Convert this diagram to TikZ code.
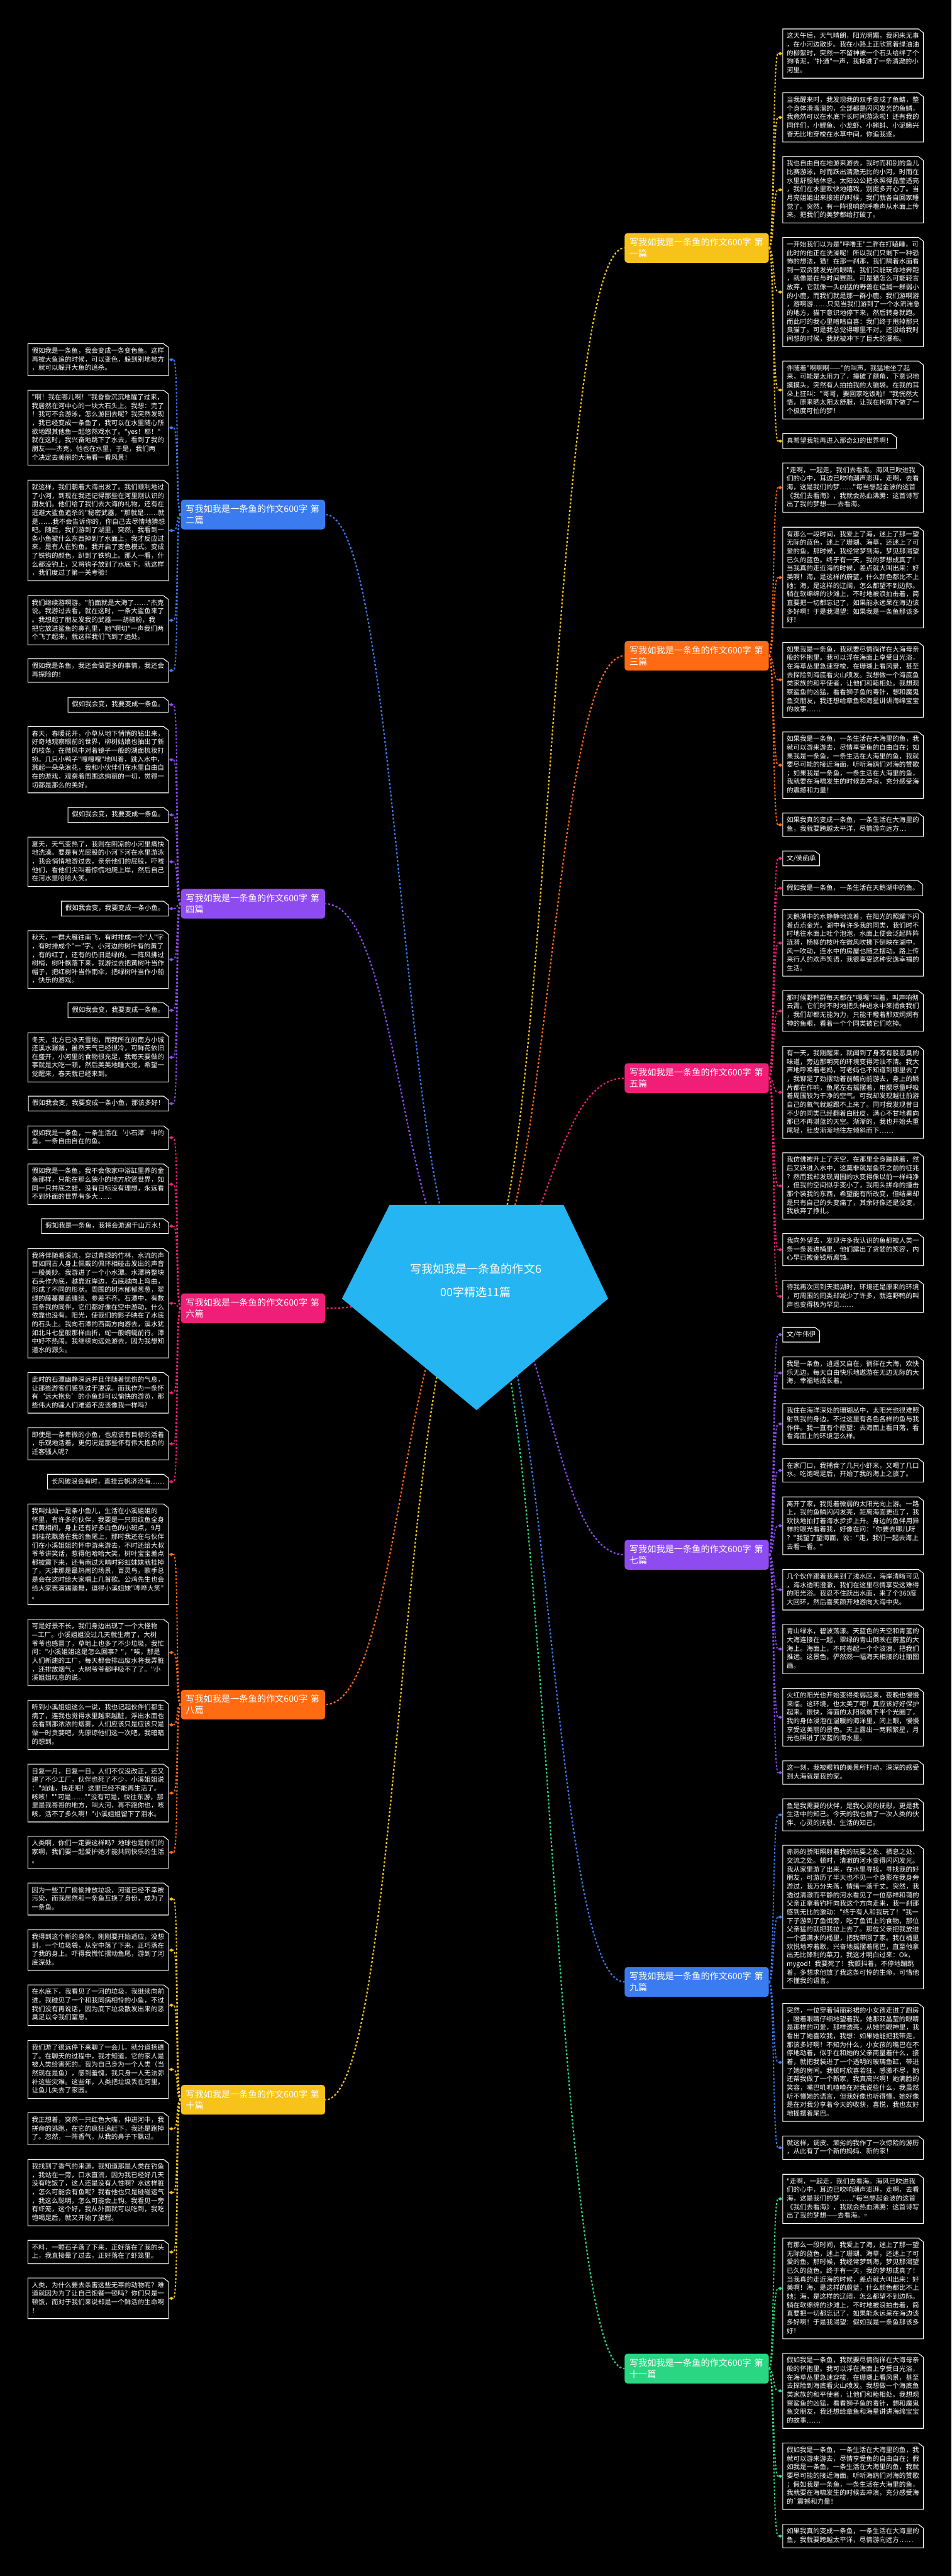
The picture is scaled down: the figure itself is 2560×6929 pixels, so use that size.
\documentclass[tikz,border=0pt]{standalone}
\usepackage{fontspec}
\newfontfamily\cjk{Noto Sans CJK SC}
\usetikzlibrary{shapes.geometric}
\definecolor{cyel}{HTML}{F7C21A}
\definecolor{cora}{HTML}{FF6A13}
\definecolor{cpink}{HTML}{F01E77}
\definecolor{cpur}{HTML}{8E4CF0}
\definecolor{cblu}{HTML}{3A7CF0}
\definecolor{cgrn}{HTML}{2AD681}
\definecolor{ccen}{HTML}{25B5F3}
\def\leafstrut{\vrule width 0pt height 8.4pt depth 3.15pt\relax}
\newcommand\leafbox[1]{\draw[white,line width=0.9pt] (#1.south west) -- (#1.north west) -- ([xshift=-6.5pt]#1.north east) -- ([yshift=-5pt]#1.north east) -- (#1.south east) -- cycle;}
\tikzset{
  leaf/.style={font=\cjk\fontsize{8.9pt}{11.55pt}\selectfont, text=white, inner xsep=5pt, inner ysep=4pt, align=left,
    execute at begin node=\leafstrut, execute at end node=\leafstrut},
  wide/.style={text width=178.5pt},
  rl/.style={leaf, anchor=west},
  ll/.style={leaf, anchor=east},
  dia/.style={diamond, fill=#1, minimum width=6.5pt, minimum height=4.5pt, inner sep=0pt},
  conn/.style={draw=#1, line width=1.7pt, dash pattern=on 2.4pt off 2.4pt},
  cconn/.style={draw=#1, line width=1.9pt, dash pattern=on 2.6pt off 2.6pt},
  br/.style={rounded corners=4pt, fill=#1, text=white, font=\cjk\fontsize{12pt}{15pt}\selectfont,
    text width=181pt, inner xsep=6.5pt, inner ysep=5pt, align=left, minimum height=40pt},
}
% right leaf: name, y, colour, branch, text
\newcommand\RW[5]{\node[rl,wide] (#1) at (2106,#2) {#5};\leafbox{#1}
  \draw[conn=#3] (#4.east) .. controls +(14,0) and +(-14,0) .. (2093,#2);
  \node[dia=#3] (d#1) at (2099,#2) {};}
\newcommand\RS[5]{\node[rl] (#1) at (2106,#2) {#5};\leafbox{#1}
  \draw[conn=#3] (#4.east) .. controls +(14,0) and +(-14,0) .. (2093,#2);
  \node[dia=#3] (d#1) at (2099,#2) {};}
\newcommand\LW[5]{\node[ll,wide] (#1) at (453,#2) {#5};\leafbox{#1}
  \draw[conn=#3] (#4.west) .. controls +(-14,0) and +(14,0) .. (467,#2);
  \node[dia=#3] (d#1) at (461,#2) {};}
\newcommand\LS[5]{\node[ll] (#1) at (453,#2) {#5};\leafbox{#1}
  \draw[conn=#3] (#4.west) .. controls +(-14,0) and +(14,0) .. (467,#2);
  \node[dia=#3] (d#1) at (461,#2) {};}
\begin{document}
\begin{tikzpicture}[x=0.5pt,y=-0.5pt]
\fill[black] (0,0) rectangle (2560,6929);
\useasboundingbox (0,0) rectangle (2560,6929);

% centre anchor
\coordinate (c) at (1280,3444);

% branches
\node[br=cyel, anchor=west] (b1) at (1680,667) {写我如我是一条鱼的作文600字 第\\一篇};
\node[br=cora, anchor=west] (b3) at (1680,1764) {写我如我是一条鱼的作文600字 第\\三篇};
\node[br=cpink, anchor=west] (b5) at (1680,2900) {写我如我是一条鱼的作文600字 第\\五篇};
\node[br=cpur, anchor=west] (b7) at (1680,4182) {写我如我是一条鱼的作文600字 第\\七篇};
\node[br=cblu, anchor=west] (b9) at (1680,5331) {写我如我是一条鱼的作文600字 第\\九篇};
\node[br=cgrn, anchor=west] (b11) at (1680,6371) {写我如我是一条鱼的作文600字 第\\十一篇};
\node[br=cblu, anchor=east] (b2) at (875,1384) {写我如我是一条鱼的作文600字 第\\二篇};
\node[br=cpur, anchor=east] (b4) at (875,2431) {写我如我是一条鱼的作文600字 第\\四篇};
\node[br=cpink, anchor=east] (b6) at (875,3519) {写我如我是一条鱼的作文600字 第\\六篇};
\node[br=cora, anchor=east] (b8) at (875,4585) {写我如我是一条鱼的作文600字 第\\八篇};
\node[br=cyel, anchor=east] (b10) at (875,5648) {写我如我是一条鱼的作文600字 第\\十篇};

% centre connectors
\foreach \b/\col in {b1/cyel,b3/cora,b5/cpink,b7/cpur,b9/cblu,b11/cgrn}
  \draw[cconn=\col] (c) .. controls (1480,3444) and (1480,0|-\b.west) .. (\b.west);
\foreach \b/\col in {b2/cblu,b4/cpur,b6/cpink,b8/cora,b10/cyel}
  \draw[cconn=\col] (c) .. controls (1080,3444) and (1080,0|-\b.east) .. (\b.east);

\fill[ccen] (1048,3241) -- (1516,3241) -- (1636,3493) -- (1282,3793) -- (920,3493) -- cycle;
\node[font=\cjk\fontsize{15.3pt}{31pt}\selectfont, text=white, align=center, inner sep=0pt] (ctext) at (c)
  {写我如我是一条鱼的作文6\\00字精选11篇};

% ===== right: 第一篇 =====
\RW{rA}{144}{cyel}{b1}{这天午后，天气晴朗，阳光明媚，我闲来无事\\，在小河边散步。我在小路上正欣赏着绿油油\\的柳絮时，突然一不留神被一个石头给绊了个\\狗啃泥，"扑通"一声，我掉进了一条清澈的小\\河里。}
\RW{rB}{316}{cyel}{b1}{当我醒来时，我发现我的双手变成了鱼鳍，整\\个身体滑溜溜的，全部都是闪闪发光的鱼鳞，\\我竟然可以在水底下长时间游泳啦！还有我的\\同伴们，小鲤鱼、小龙虾、小蝌蚪、小泥鳅兴\\奋无比地穿梭在水草中间，你追我逐。}
\RW{rC}{510.5}{cyel}{b1}{我也自由自在地游来游去，我时而和别的鱼儿\\比赛游泳，时而跃出清澈无比的小河，时而在\\水里舒服地休息。太阳公公把水照得晶莹透亮\\，我们在水里欢快地嬉戏，别提多开心了。当\\月亮姐姐出来接班的时候，我们就各自回家睡\\觉了。突然，有一阵很响的呼噜声从水面上传\\来。把我们的美梦都给打破了。}
\RW{rD}{785.5}{cyel}{b1}{一开始我们以为是"呼噜王"二胖在打瞌睡，可\\此时的他正在洗澡呢！所以我们只剩下一种恐\\怖的想法，猫！在那一刹那，我们隔着水面看\\到一双贪婪发光的眼睛。我们只能玩命地奔跑\\，就像是在与时间赛跑。可是猫怎么可能轻言\\放弃，它就像一头凶猛的野兽在追捕一群弱小\\的小鹿，而我们就是那一群小鹿。我们游啊游\\，游啊游……只见当我们游到了一个水流湍急\\的地方，猫下意识地停下来，然后转身就跑。\\而此时的我心里暗暗自喜：我们终于甩掉那只\\臭猫了。可是我总觉得哪里不对，还没给我时\\间想的时候，我就被冲下了巨大的瀑布。}
\RW{rE}{1049}{cyel}{b1}{伴随着"啊啊啊——"的叫声，我猛地坐了起\\来，可能是太用力了，撞破了额角，下意识地\\摸摸头。突然有人拍拍我的大脑袋。在我的耳\\朵上狂叫："哥哥，要回家吃饭啦！"我恍然大\\悟，原来晒太阳太舒服，让我在树荫下做了一\\个极度可怕的梦！}
\RS{rF}{1186.5}{cyel}{b1}{真希望我能再进入那奇幻的世界啊！}

% ===== right: 第三篇 =====
\RW{rG}{1311.5}{cora}{b3}{"走啊，一起走，我们去看海。海风已吹进我\\们的心中，耳边已吹响潮声澎湃，走啊，去看\\海，这是我们的梦……"每当想起金波的这首\\《我们去看海》，我就会热血沸腾：这首诗写\\出了我的梦想——去看海。}
\RW{rH}{1553.5}{cora}{b3}{有那么一段时间，我爱上了海，迷上了那一望\\无际的蓝色，迷上了珊瑚、海草，还迷上了可\\爱的鱼。那时候，我经常梦到海，梦见那渴望\\已久的蓝色。终于有一天，我的梦想成真了！\\当我真的走近海的时候，差点就大叫出来：好\\美啊！海，是这样的蔚蓝，什么颜色都比不上\\她；海，是这样的辽阔，怎么都望不到边际。\\躺在软绵绵的沙滩上，不时地被浪拍击着，简\\直要把一切都忘记了，如果能永远呆在海边该\\多好啊！于是我渴望：如果我是一条鱼那该多\\好！}
\RW{rI}{1828.5}{cora}{b3}{如果我是一条鱼，我就要尽情徜徉在大海母亲\\般的怀抱里。我可以浮在海面上享受日光浴，\\在海草丛里急速穿梭，在珊瑚上看风景，甚至\\去探险到海底看火山喷发。我想做一个海底鱼\\类家族的和平使者，让他们和睦相处。我想观\\察鲨鱼的凶猛，看看狮子鱼的毒针，想和魔鬼\\鱼交朋友，我还想给章鱼和海星讲讲海绵宝宝\\的故事……}
\RW{rJ}{2058}{cora}{b3}{如果我是一条鱼，一条生活在大海里的鱼，我\\就可以游来游去，尽情享受鱼的自由自在；如\\果我是一条鱼，一条生活在大海里的鱼，我就\\要尽可能的接近海面，听听海鸥们对海的赞歌\\；如果我是一条鱼，一条生活在大海里的鱼，\\我就要在海啸发生的时候去冲浪，充分感受海\\的震撼和力量！}
\RW{rK}{2218.5}{cora}{b3}{如果我真的变成一条鱼，一条生活在大海里的\\鱼，我就要跨越太平洋，尽情游向远方…}

% ===== right: 第五篇 =====
\RS{rL}{2309}{cpink}{b5}{文/侯函承}
\RS{rM}{2389}{cpink}{b5}{假如我是一条鱼，一条生活在天鹅湖中的鱼。}
\RW{rN}{2536.5}{cpink}{b5}{天鹅湖中的水静静地流着，在阳光的照耀下闪\\着点点金光。湖中有许多我的同类，我们时不\\时地往水面上吐个泡泡，水面上便会泛起阵阵\\涟漪，杨柳的枝叶在微风吹拂下倒映在湖中，\\风一吹动，连水中的房屋也随之摆动。路上传\\来行人的欢声笑语，我很享受这种安逸幸福的\\生活。}
\RW{rO}{2719.5}{cpink}{b5}{那时候野鸭群每天都在"嘎嘎"叫着，叫声响彻\\云霄。它们时不时地把头伸进水中来捕食我们\\，我们却都无能为力，只能干瞪着那双炯炯有\\神的鱼眼，看着一个个同类被它们吃掉。}
\RW{rP}{2938}{cpink}{b5}{有一天，我刚醒来，就闻到了身旁有股恶臭的\\味道，旁边那明亮的环境变得污浊不清。我大\\声地呼唤着老妈，可老妈也不知道到哪里去了\\，我铆足了劲摆动着前鳍向前游去，身上的鳞\\片都在作响，鱼尾左右摇摆着，用腮尽量呼吸\\着周围较为干净的空气。可我却发现越往前游\\自己的氧气就越跟不上来了。同时我发现昔日\\不少的同类已经翻着白肚皮，满心不甘地看向\\那已不再湛蓝的天空。渐渐的，我也开始头重\\尾轻，肚皮渐渐地往左倾斜而下……}
\RW{rQ}{3190}{cpink}{b5}{我仿佛被升上了天空，在那里全身蹦跳着，然\\后又跃进入水中，这莫非就是鱼死之前的征兆\\？然而我却发现周围的水变得像以前一样纯净\\，但我的空间似乎变小了，我用头拼命的撞击\\那个装我的东西，希望能有所改变，但结果却\\是只有自己的头变痛了，其余好像还是没变，\\我放弃了挣扎。}
\RW{rR}{3361.5}{cpink}{b5}{我向外望去，发现许多我认识的鱼都被人类一\\条一条装进桶里，他们露出了贪婪的笑容，内\\心早已被金钱所腐蚀。}
\RW{rS}{3487}{cpink}{b5}{待我再次回到天鹅湖时，环境还是原来的环境\\，可周围的同类却减少了许多，就连野鸭的叫\\声也变得极为罕见……}

% ===== right: 第七篇 =====
\RS{rT}{3590}{cpur}{b7}{文/牛伟伊}
\RW{rU}{3693}{cpur}{b7}{我是一条鱼，逍遥又自在，徜徉在大海，欢快\\乐无边。每天自由快乐地遨游在无边无际的大\\海，幸福地成长着。}
\RW{rV}{3830}{cpur}{b7}{我住在海洋深处的珊瑚丛中，太阳光也很难照\\射到我的身边，不过这里有各色各样的鱼与我\\作伴。我一直有个愿望：去海面上看日落，看\\看海面上的环境怎么样。}
\RW{rW}{3955}{cpur}{b7}{在家门口，我捕食了几只小虾米，又喝了几口\\水。吃饱喝足后，开始了我的海上之旅了。}
\RW{rX}{4104}{cpur}{b7}{离开了家，我觅着微弱的太阳光向上游。一路\\上，我的鱼鳞闪闪发亮，距离海面更近了，我\\欢快地拍打着海水步步上升。身边的鱼伴用异\\样的眼光看着我，好像在问："你要去哪儿呀\\？"我望了望海面，说："走，我们一起去海上\\去看一看。"}
\RW{rY}{4276}{cpur}{b7}{几个伙伴跟着我来到了浅水区，海岸清晰可见\\，海水透明澄澈，我们在这里尽情享受这难得\\的阳光浴。我忍不住跃出水面，来了个360度\\大回环，然后喜笑颜开地游向大海中央。}
\RW{rZ}{4435.5}{cpur}{b7}{青山绿水，碧波荡漾。天蓝色的天空和青蓝的\\大海连接在一起，翠绿的青山倒映在蔚蓝的大\\海上。海面上，不时卷起一个个波浪，把我们\\推远。这景色，俨然然一幅海天相接的壮丽图\\画。}
\RW{rAA}{4619}{cpur}{b7}{火红的阳光也开始变得柔弱起来，夜晚也慢慢\\来临。这环境，也太美了吧！真应该好好保护\\起来。很快，海面的太阳就剩下半个光圈了，\\我的身体浸泡在温暖的海洋里，闭上眼，慢慢\\享受这美丽的景色。天上露出一两颗繁星，月\\光也照进了深蓝的海水里。}
\RW{rAB}{4768}{cpur}{b7}{这一刻，我被眼前的美景所打动，深深的感受\\到大海就是我的家。}

% ===== right: 第九篇 =====
\RW{rAC}{4881.5}{cblu}{b9}{鱼是我需要的伙伴，是我心灵的抚慰，更是我\\生活中的知己。今天的我也做了一次人类的伙\\伴、心灵的抚慰、生活的知己。}
\RW{rAD}{5156.5}{cblu}{b9}{赤热的骄阳照射着我的玩耍之处、栖息之处、\\交流之处。顿时，清澈的河水变得闪闪发光。\\我从家里游了出来，在水里寻找，寻找我的好\\朋友，可游历了半天也不见一个身影在我身旁\\游过，我万分失落，情绪一落千丈。突然，我\\透过清澈而平静的河水看见了一位慈祥和蔼的\\父亲正拿着钓杆向我这个方向走来，我一刹那\\感到无比的激动："终于有人和我玩了！"我一\\下子游到了鱼饵旁，吃了鱼饵上的食物，那位\\父亲猛的就把我拉上去了。那位父亲把我放进\\一个盛满水的桶里，把我带回了家。我在桶里\\欢悦地哼着歌，兴奋地摇摆着尾巴，直至他拿\\出无比锋利的菜刀，我这才明白过来：Ok，\\mygod！我要死了！我颤抖着，不停地蹦跳\\着，多想求他放了我这条可怜的生命，可惜他\\不懂我的语言。}
\RW{rAE}{5547.5}{cblu}{b9}{突然，一位穿着俏丽彩裙的小女孩走进了厨房\\，瞪着眼睛仔细地望着我，她那双晶莹的眼睛\\是那样的可爱，那样透亮，从她的眼神里，我\\看出了她喜欢我，我想：如果她能把我带走，\\那该多好啊！不知为什么，小女孩的嘴巴在不\\停地动着，似乎在和她的父亲商量着什么，接\\着，就把我装进了一个透明的玻璃鱼缸，带进\\了她的房间。我顿时欣喜若狂、感激不尽，她\\还帮我做了一个新家，我真高兴啊！她满脸的\\笑容，嘴巴叽叽喳喳在对我说些什么，我虽然\\听不懂她的语言，但我好像也听得懂，她好像\\是在对我分享着今天的收获，喜悦，我也友好\\地摇摆着尾巴。}
\RW{rAF}{5777}{cblu}{b9}{就这样，调皮、顽劣的我作了一次惊险的游历\\，从此有了一个新的妈妈、新的家！}

% ===== right: 第十一篇 =====
\RW{rAG}{5914.5}{cgrn}{b11}{"走啊，一起走，我们去看海。海风已吹进我\\们的心中，耳边已吹响潮声澎湃，走啊，去看\\海，这是我们的梦……"每当想起金波的这首\\《我们去看海》，我就会热血沸腾：这首诗写\\出了我的梦想——去看海。=}
\RW{rAH}{6155.5}{cgrn}{b11}{有那么一段时间，我爱上了海，迷上了那一望\\无际的蓝色，迷上了珊瑚、海草，还迷上了可\\爱的鱼。那时候，我经常梦到海，梦见那渴望\\已久的蓝色。终于有一天，我的梦想成真了！\\当我真的走近海的时候，差点就大叫出来：好\\美啊！海，是这样的蔚蓝，什么颜色都比不上\\她；海，是这样的辽阔，怎么都望不到边际。\\躺在软绵绵的沙滩上，不时地被浪拍击着，简\\直要把一切都忘记了，如果能永远呆在海边该\\多好啊！于是我渴望：假如我是一条鱼那该多\\好！}
\RW{rAI}{6431}{cgrn}{b11}{假如我是一条鱼，我就要尽情徜徉在大海母亲\\般的怀抱里。我可以浮在海面上享受日光浴，\\在海草丛里急速穿梭，在珊瑚上看风景，甚至\\去探险到海底看火山喷发。我想做一个海底鱼\\类家族的和平使者，让他们和睦相处。我想观\\察鲨鱼的凶猛，看看狮子鱼的毒针，想和魔鬼\\鱼交朋友，我还想给章鱼和海星讲讲海绵宝宝\\的故事……}
\RW{rAJ}{6660.5}{cgrn}{b11}{假如我是一条鱼，一条生活在大海里的鱼，我\\就可以游来游去，尽情享受鱼的自由自在；假\\如我是一条鱼，一条生活在大海里的鱼，我就\\要尽可能的接近海面，听听海鸥们对海的赞歌\\；假如我是一条鱼，一条生活在大海里的鱼，\\我就要在海啸发生的时候去冲浪，充分感受海\\的`震撼和力量！}
\RW{rAK}{6821.5}{cgrn}{b11}{如果我真的变成一条鱼，一条生活在大海里的\\鱼，我就要跨越太平洋，尽情游向远方……}

% ===== left: 第二篇 =====
\LW{l1}{967.5}{cblu}{b2}{假如我是一条鱼，我会变成一条变色鱼。这样\\再被大鱼追的时候，可以变色，躲到别地地方\\，就可以躲开大鱼的追杀。}
\LW{l2}{1150.5}{cblu}{b2}{"啊！我在哪儿啊！"我昏昏沉沉地醒了过来，\\我居然在河中心的一块大石头上。我想：完了\\！我可不会游泳，怎么游回去呢？我突然发现\\，我已经变成一条鱼了，我可以在水里随心所\\欲地跟其他鱼一起悠然戏水了。"yes！耶！"\\就在这时，我兴奋地跳下了水去，看到了我的\\朋友——杰克，他也在水里，于是，我们两\\个决定去美丽的大海看一看风景！}
\LW{l3}{1427}{cblu}{b2}{就这样，我们朝着大海出发了。我们顺利地过\\了小河，到现在我还记得那些在河里刚认识的\\朋友们。他们给了我们去大海的礼物，还有在\\逃避大鲨鱼追杀的"秘密武器，"那就是……就\\是……我不会告诉你的，你自己去尽情地猜想\\吧。随后，我们游到了湖里，突然，我看到一\\条小鱼被什么东西掉到了水面上，我才反应过\\来，是有人在钓鱼。我开启了变色模式。变成\\了铁钩的颜色，趴到了铁钩上。那人一看，什\\么都没钓上，又将钩子放到了水底下。就这样\\，我们度过了第一关考验！}
\LW{l4}{1668.5}{cblu}{b2}{我们继续游啊游。"前面就是大海了……"杰克\\说。我游过去看，就在这时，一条大鲨鱼来了\\。我想起了朋友发我的武器——胡椒粉，我\\把它放进鲨鱼的鼻孔里，她"啊切"一声我们两\\个飞了起来，就这样我们飞到了远处。}
\LW{l5}{1803.5}{cblu}{b2}{假如我是条鱼，我还会做更多的事情，我还会\\再探险的！}

% ===== left: 第四篇 =====
\LS{l6}{1895.5}{cpur}{b4}{假如我会变，我要变成一条鱼。}
\LW{l7}{2043.5}{cpur}{b4}{春天，春暖花开，小草从地下悄悄的钻出来，\\好奇地观察眼前的世界，柳树姑娘也抽出了新\\的枝条，在微风中对着镜子一般的湖面梳妆打\\扮。几只小鸭子"嘎嘎嘎"地叫着，跳入水中，\\溅起一朵朵浪花，我和小伙伴们在水里自由自\\在的游戏，观察着周围这绚丽的一切，觉得一\\切都是那么的美好。}
\LS{l8}{2192}{cpur}{b4}{假如我会变，我要变成一条鱼。}
\LW{l9}{2318}{cpur}{b4}{夏天，天气变热了，我则在阴凉的小河里痛快\\地洗澡。要是有光屁股的小河下河在水里游泳\\，我会悄悄地游过去，亲亲他们的屁股，吓唬\\他们，看他们尖叫着惊慌地爬上岸，然后自己\\在河水里哈哈大笑。}
\LS{l10}{2444}{cpur}{b4}{假如我会变，我要变成一条小鱼。}
\LW{l11}{2581}{cpur}{b4}{秋天，一群大雁往南飞，有时排成一个"人"字\\，有时排成个"一"字。小河边的树叶有的黄了\\，有的红了，还有的仍旧是绿的。一阵风拂过\\树梢，树叶飘落下来，我游过去把黄树叶当作\\帽子，把红树叶当作雨伞，把绿树叶当作小船\\，快乐的游戏。}
\LS{l12}{2717.5}{cpur}{b4}{假如我会变，我要变成一条鱼。}
\LW{l13}{2844}{cpur}{b4}{冬天，北方已冰天雪地，而我所在的南方小城\\还溪水潺潺，虽然天气已经很冷，可鲜花依旧\\在盛开，小河里的食物很充足，我每天要做的\\事就是大吃一顿，然后美美地睡大觉，希望一\\觉醒来，春天就已经来到。}
\LS{l14}{2968.5}{cpur}{b4}{假如我会变，我要变成一条小鱼，那该多好！}

% ===== left: 第六篇 =====
\LW{l15}{3060}{cpink}{b6}{假如我是一条鱼，一条生活在‘小石潭’中的\\鱼，一条自由自在的鱼。}
\LW{l16}{3185.5}{cpink}{b6}{假如我是一条鱼，我不会像家中浴缸里养的金\\鱼那样，只能在那么狭小的地方欣赏世界，如\\同一只井底之蛙，没有目标没有理想，永远看\\不到外面的世界有多大……}
\LS{l17}{3298}{cpink}{b6}{假如我是一条鱼，我将会游遍千山万水！}
\LW{l18}{3505.5}{cpink}{b6}{我将伴随着溪流，穿过青绿的竹林，水流的声\\音如同古人身上佩戴的佩环相碰击发出的声音\\一般美妙。我游进了一个小水潭。水潭将整块\\石头作为底，越靠近岸边，石底越向上弯曲，\\形成了不同的形状。周围的树木郁郁葱葱，翠\\绿的藤蔓覆盖缠绕、参差不齐。石潭中，有数\\百条我的同伴，它们都好像在空中游动，什么\\依靠也没有。阳光，使我们的影子映在了水底\\的石头上。我向石潭的西南方向游去，溪水犹\\如北斗七星般那样曲折，蛇一般蜿蜒前行。潭\\中好不热闹。我继续向远处游去，因为我想知\\道水的源头。}
\LW{l19}{3746.5}{cpink}{b6}{此时的石潭幽静深远并且伴随着忧伤的气息，\\让那些游客们感到过于凄凉。而我作为一条怀\\有‘远大抱负’的小鱼却可以愉快的游览，那\\些伟大的骚人们难道不应该像我一样吗？}
\LW{l20}{3883.5}{cpink}{b6}{即使是一条卑微的小鱼，也应该有目标的活着\\，乐观地活着，更何况是那些怀有伟大抱负的\\迁客骚人呢？}
\LS{l21}{3985.5}{cpink}{b6}{长风破浪会有时，直挂云帆济沧海……}

% ===== left: 第八篇 =====
\LW{l22}{4181}{cora}{b8}{我叫灿灿一是条小鱼儿，生活在小溪姐姐的\\怀里，有许多的伙伴，我要是一只斑纹鱼全身\\红黄相间，身上还有好多白色的小斑点，9月\\到桂花飘落在我的鱼尾上，那时我还在与伙伴\\们在小溪姐姐的怀中游来游去，不时还给大叔\\爷爷讲笑话，惹得他哈哈大笑，树叶宝宝差点\\都被震下来，还有雨过天晴时彩虹妹妹就挂掉\\了，天津那是最热闹的场景，百灵鸟，歌手总\\是会在这时给大家唱上几首歌。公鸡先生也会\\给大家表演踢踏舞，逗得小溪姐妹"哗哗大笑"\\。}
\LW{l23}{4445}{cora}{b8}{可是好景不长，我们身边出现了一个大怪物\\—工厂。小溪姐姐没过几天就生病了，大树\\爷爷也感冒了，草地上也多了不少垃圾，我忙\\问："小溪姐姐这是怎么回事？"，"唉，那是\\人们新建的工厂，每天都会排出废水将我弄脏\\，还排放烟气，大树爷爷都呼吸不了了。"小\\溪姐姐叹息的说。}
\LW{l24}{4639.5}{cora}{b8}{听到小溪姐姐这么一说，我也记起伙伴们都生\\病了，连我也觉得水里越来越脏，浮出水面也\\会看到那浓浓的烟雾，人们应该只是应该只是\\做一时贪婪吧，先原谅他们这一次吧，我暗暗\\的想到。}
\LW{l25}{4823}{cora}{b8}{日复一月，日复一日。人们不仅没改正，还又\\建了不少工厂，伙伴也死了不少，小溪姐姐说\\："灿灿，快走吧！这里已经不能再生活了。\\咳咳！""可是……""没有可是，快往东游，那\\里是我哥哥的地方，叫大河，再不跑你也，咳\\咳，活不了多久啊！"小溪姐姐留下了泪水。}
\LW{l26}{4982.5}{cora}{b8}{人类啊，你们一定要这样吗？地球也是你们的\\家啊，我们要一起爱护她才能共同快乐的生活\\。}

% ===== left: 第十篇 =====
\LW{l27}{5108}{cyel}{b10}{因为一些工厂偷偷排放垃圾，河道已经不幸被\\污染，而我居然和一条鱼互换了身份，成为了\\一条鱼。}
\LW{l28}{5245.5}{cyel}{b10}{我得到这个新的身体，刚刚要开始适应，没想\\到，一个垃圾袋，从空中落了下来，正巧落在\\了我的身上。吓得我慌忙摆动鱼尾，游到了河\\底深处。}
\LW{l29}{5393.5}{cyel}{b10}{在水底下，我看见了一河的垃圾，我继续向前\\进，我碰见了一个和我同病相怜的小鱼，不过\\我们没有再说话，因为底下垃圾散发出来的恶\\臭足以令我们窒息。}
\LW{l30}{5566.5}{cyel}{b10}{我们游了很远停下来聊了一会儿，就分道扬镳\\了。在聊天的过程中，我才知道，它的家人是\\被人类给害死的。我为自己身为一个人类（当\\然现在是鱼），感到羞愧，我只身一人无法弥\\补这些灾难。这些年，人类把垃圾丢在河里，\\让鱼儿失去了家园。}
\LW{l31}{5726}{cyel}{b10}{我正想着，突然一只红色大嘴，伸进河中，我\\拼命的逃跑，在它的疯狂追赶下，我还是跑掉\\了。忽然，一阵香气，从我的鼻子下飘过。}
\LW{l32}{5897.5}{cyel}{b10}{我找到了香气的来源，我知道那是人类在钓鱼\\，我站在一旁，口水直流，因为我已经好几天\\没有吃饭了，这人还是没有人性啊？水这样脏\\，怎么可能会有鱼呢？我看他也只是碰碰运气\\，我这么聪明，怎么可能会上钩。我看见一旁\\有虾笼，这个好，我从外面就可以吃到，我吃\\饱喝足后，就又开始了旅程。}
\LW{l33}{6057.5}{cyel}{b10}{不料，一颗石子落了下来，正好落在了我的头\\上，我直接晕了过去，正好落在了虾笼里。}
\LW{l34}{6182}{cyel}{b10}{人类，为什么要去杀害这些无辜的动物呢？难\\道就因为为了让自己饱餐一顿吗？你们只是一\\顿饭，而对于我们来说却是一个鲜活的生命啊\\！}
\end{tikzpicture}
\end{document}
